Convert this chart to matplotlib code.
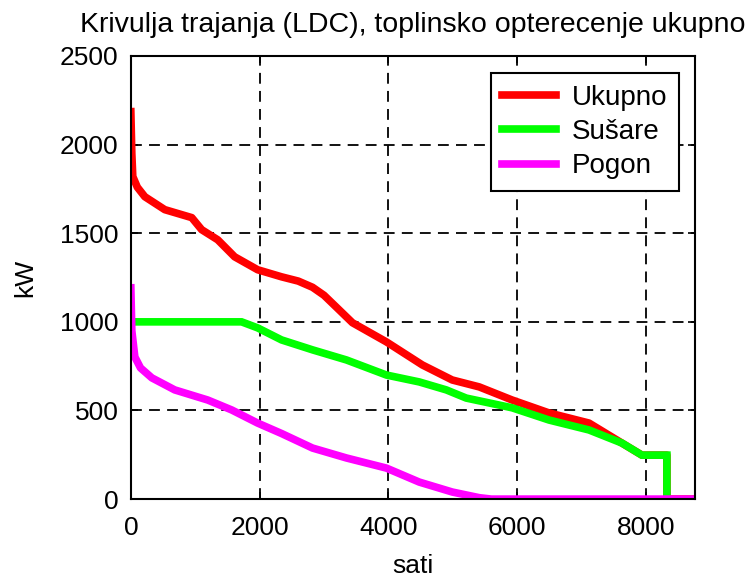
import matplotlib

matplotlib.use("Agg")
import matplotlib.pyplot as plt

plt.rcParams["font.family"] = ["Liberation Sans", "DejaVu Sans"]

# load duration curves, hours vs kW
ukupno_h = [0, 15, 30, 100, 217, 527, 946, 1100, 1349, 1612, 1969, 2341, 2600, 2822, 3000, 3200,
            3442, 3969, 4527, 4992, 5411, 5922, 6496, 7116, 7628, 7938, 8326, 8326, 8760]
ukupno_kw = [2186, 1950, 1820, 1760, 1706, 1633, 1588, 1520, 1463, 1367, 1294, 1254, 1230, 1195,
             1150, 1080, 995, 887, 757, 672, 633, 559, 486, 429, 316, 248, 248, 0, 0]

susare_h = [0, 1720, 1969, 2341, 2822, 3349, 3969, 4480, 4900, 5209, 5922, 6496, 7116, 7628,
            7938, 8326, 8326]
susare_kw = [1000, 1000, 966, 898, 842, 785, 700, 661, 616, 570, 515, 446, 390, 316,
             248, 248, 0]

pogon_h = [0, 15, 62, 150, 326, 682, 1194, 1566, 1969, 2341, 2822, 3349, 3969, 4480,
           4992, 5411, 5600, 8760]
pogon_kw = [1192, 950, 802, 740, 684, 616, 559, 503, 429, 370, 288, 232, 175, 96,
            40, 8, 0, 0]

fig = plt.figure(figsize=(7.52, 5.77), dpi=100)
ax = fig.add_axes([0.174, 0.135, 0.750, 0.768])

ax.plot(ukupno_h, ukupno_kw, color="#ff0000", lw=5.5, label="Ukupno")
ax.plot(susare_h, susare_kw, color="#00ff00", lw=5.5, label="Sušare", solid_joinstyle="miter")
ax.plot(pogon_h, pogon_kw, color="#ff00ff", lw=5.5, label="Pogon")

ax.set_xlim(0, 8760)
ax.set_ylim(0, 2500)
ax.set_xticks([0, 2000, 4000, 6000, 8000])
ax.set_yticks([0, 500, 1000, 1500, 2000, 2500])
ax.tick_params(direction="in", top=True, right=True, labelsize=19, length=5, width=1.2)
ax.tick_params(axis="x", pad=12)
ax.tick_params(axis="y", pad=9)
ax.grid(True, color="black", linestyle=(0, (6, 4)), linewidth=1.3)
for s in ax.spines.values():
    s.set_linewidth(1.5)

ax.set_xlabel("sati", fontsize=19, labelpad=10)
ax.set_ylabel("kW", fontsize=19, labelpad=16)
ax.set_title("Krivulja trajanja (LDC), toplinsko opterecenje ukupno", fontsize=20.5, pad=17)

leg = ax.legend(loc="upper right", fontsize=20, frameon=True, fancybox=False, framealpha=1,
                edgecolor="black", handlelength=1.95, handletextpad=0.55, borderpad=0.42,
                borderaxespad=0, labelspacing=0.3, bbox_to_anchor=(0.9716, 0.9616))
leg.get_frame().set_linewidth(1.5)

fig.savefig("out.png", dpi=100)
